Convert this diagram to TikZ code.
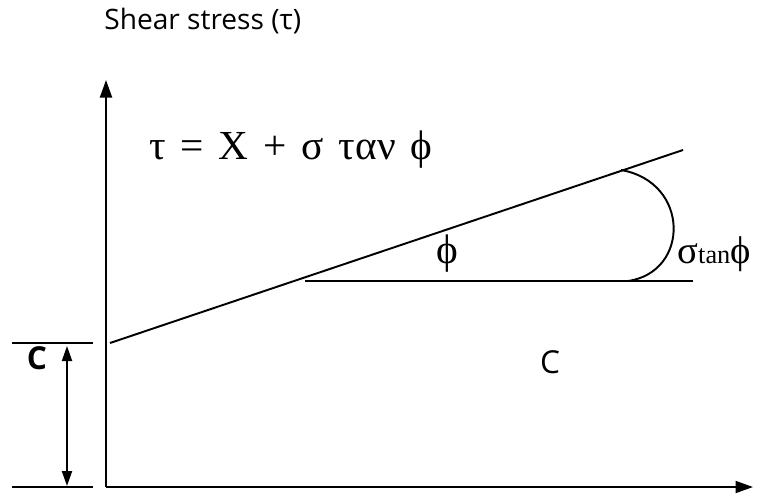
\documentclass[tikz,border=0pt]{standalone}
\usepackage{fontspec}
\setmainfont{Liberation Serif}
\newfontfamily\labelfont{Open Sans}
\usetikzlibrary{arrows.meta}
\newcommand{\gap}{\hspace{0.36em}}
\tikzset{
    axis/.style={line width=1.1pt, -{Triangle[length=3.5mm, width=2.4mm]}},
    line/.style={line width=1.1pt},
    dim/.style={line width=1.1pt, {Triangle[length=3mm, width=2mm]}-{Triangle[length=3mm, width=2mm]}},
    greek/.style={font=\fontsize{23.5}{27}\selectfont, inner sep=0pt},
    sans/.style={font=\labelfont\fontsize{16}{19}\selectfont, inner sep=0pt},
    common settings/.style={x=0.02cm, y=-0.02cm}
}

\begin{document}
\begin{tikzpicture}[common settings]
    \useasboundingbox (0,0) rectangle (763,498);

    \def\ox{106}   % origin x
    \def\oy{487}   % origin y
    \def\cy{343}   % intercept C

    % Axes
    \coordinate (O) at (\ox,\oy);
    \coordinate (ytop) at (\ox,80);
    \coordinate (xend) at (753,\oy);
    \draw[axis] (O) -- (ytop);
    \draw[axis] (O) -- (xend);

    % Failure envelope
    \coordinate (env0) at (110,\cy);
    \coordinate (env1) at (683,150);
    \draw[line] (env0) -- (env1);

    % Horizontal reference and angle arc
    \coordinate (h0) at (305,281);
    \coordinate (h1) at (693,281);
    \draw[line] (h0) -- (h1);
    \coordinate (arcA) at (621,170);
    \coordinate (arcB) at (628,281);
    \draw[line] (arcA) .. controls (690,182) and (690,272) .. (arcB);

    % Cohesion dimension
    \coordinate (t0) at (12,\cy);
    \coordinate (t1) at (93,\cy);
    \coordinate (b0) at (12,\oy);
    \coordinate (b1) at (93,\oy);
    \draw[line] (t0) -- (t1);
    \draw[line] (b0) -- (b1);
    \coordinate (d0) at (67,346);
    \coordinate (d1) at (67,486);
    \draw[dim] (d0) -- (d1);

    % Labels
    \node[sans, anchor=base west] (ylabel) at (104,29) {Shear stress (τ)};
    \node[greek, anchor=base west] (law) at (149,159) {τ\gap=\gap X\gap+\gap σ\gap ταν\gap ϕ};
    \node[greek] (phi) at (447,254) {ϕ};
    \node[anchor=base west, inner sep=0pt] (stan) at (677,263) {\fontsize{22}{26}\selectfont σ\fontsize{15}{18}\selectfont tan\fontsize{22}{26}\selectfont ϕ};
    \node[sans, font=\labelfont\bfseries\fontsize{18}{22}\selectfont] (cleft) at (37,358) {C};
    \node[sans, font=\labelfont\fontsize{18}{22}\selectfont] (cmid) at (550,362) {C};

\end{tikzpicture}
\end{document}
